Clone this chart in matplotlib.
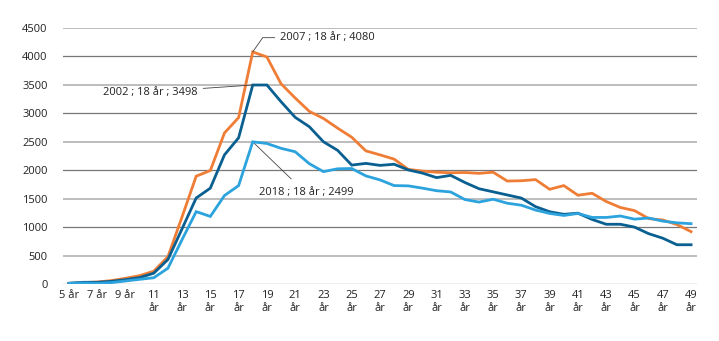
import numpy as np
import matplotlib
matplotlib.use('Agg')
import matplotlib.pyplot as plt

plt.rcParams['font.family'] = ['Open Sans', 'DejaVu Sans']

# ages 5..49
ages = list(range(5, 50))

# 2002 (dark blue)
y2002 = [12, 30, 30, 47, 76, 112, 190, 430, 970, 1512, 1685, 2270, 2570, 3498, 3498,
         3205, 2930, 2765, 2500, 2350, 2090, 2120, 2085, 2105, 2005, 1950, 1870, 1910,
         1785, 1675, 1620, 1565, 1510, 1360, 1270, 1225, 1245, 1135, 1050, 1050, 1000,
         885, 805, 690, 690]

# 2007 (orange)
y2007 = [12, 25, 35, 60, 100, 147, 225, 480, 1180, 1895, 1995, 2655, 2925, 4080, 3990,
         3520, 3270, 3035, 2910, 2740, 2580, 2340, 2270, 2195, 2015, 1985, 1965, 1955,
         1960, 1945, 1965, 1810, 1815, 1835, 1665, 1730, 1560, 1595, 1450, 1345, 1290,
         1150, 1125, 1045, 920]

# 2018 (light blue)
y2018 = [12, 18, 12, 24, 53, 82, 110, 277, 780, 1272, 1188, 1555, 1730, 2499, 2470,
         2385, 2325, 2115, 1975, 2025, 2030, 1900, 1830, 1730, 1725, 1685, 1640, 1618,
         1485, 1440, 1490, 1420, 1385, 1300, 1240, 1205, 1240, 1170, 1170, 1195, 1140,
         1160, 1105, 1075, 1060]

tick_ages = list(range(5, 50, 2))
tick_labels = [f'{a} år' if a < 10 else f'{a}\når' for a in tick_ages]

c_dark = '#0A5F91'
c_orange = '#EF7D35'
c_light = '#2CA3DD'

fig = plt.figure(figsize=(7.19, 3.41), dpi=100)
ax = fig.add_axes([63/719, 1-284/341, (697-63)/719, (284-28)/341])

# alternating grid lines
for v in range(0, 4501, 500):
    col = '#777777' if v % 1000 == 0 else '#bdbdbd'
    lw = 0.9 if v % 1000 == 0 else 1.4
    ax.axhline(v, color=col, lw=lw, zorder=0)

ax.plot(ages, y2007, color=c_orange, lw=2.0, zorder=2, solid_joinstyle='miter')
ax.plot(ages, y2002, color=c_dark, lw=2.0, zorder=3, solid_joinstyle='miter')
ax.plot(ages, y2018, color=c_light, lw=2.0, zorder=4, solid_joinstyle='miter')

ax.set_xlim(4.58, 49.42)
ax.set_ylim(0, 4500)
ax.set_yticks(range(0, 4501, 500))
ax.set_yticklabels([str(v) for v in range(0, 4501, 500)])
ax.set_xticks(tick_ages)
ax.set_xticklabels(tick_labels, linespacing=1.3)
ax.tick_params(axis='y', length=0, pad=11, labelsize=8, labelcolor='#222222')
ax.tick_params(axis='x', length=0, pad=4, labelsize=8, labelcolor='#222222')
for lab in ax.get_xticklabels():
    lab.set_verticalalignment('top')
for s in ax.spines.values():
    s.set_visible(False)

# annotations
ax.annotate('2007 ; 18 år ; 4080', xy=(18, 4080), xytext=(19.95, 4330),
            fontsize=8, va='center', ha='left', color='#222222',
            arrowprops=dict(arrowstyle='-', color='#444444', lw=0.6,
                            connectionstyle='angle,angleA=0,angleB=55,rad=0',
                            shrinkA=2, shrinkB=0))
ax.annotate('2002 ; 18 år ; 3498', xy=(18, 3498), xytext=(14.1, 3375),
            fontsize=8, va='center', ha='right', color='#222222',
            arrowprops=dict(arrowstyle='-', color='#444444', lw=0.6,
                            shrinkA=2, shrinkB=0))
ax.annotate('2018 ; 18 år ; 2499', xy=(18, 2499), xytext=(21.75, 1600),
            fontsize=8, va='center', ha='center', color='#222222',
            arrowprops=dict(arrowstyle='-', color='#444444', lw=0.6,
                            shrinkA=6, shrinkB=0))

fig.savefig('out.png', dpi=100)
